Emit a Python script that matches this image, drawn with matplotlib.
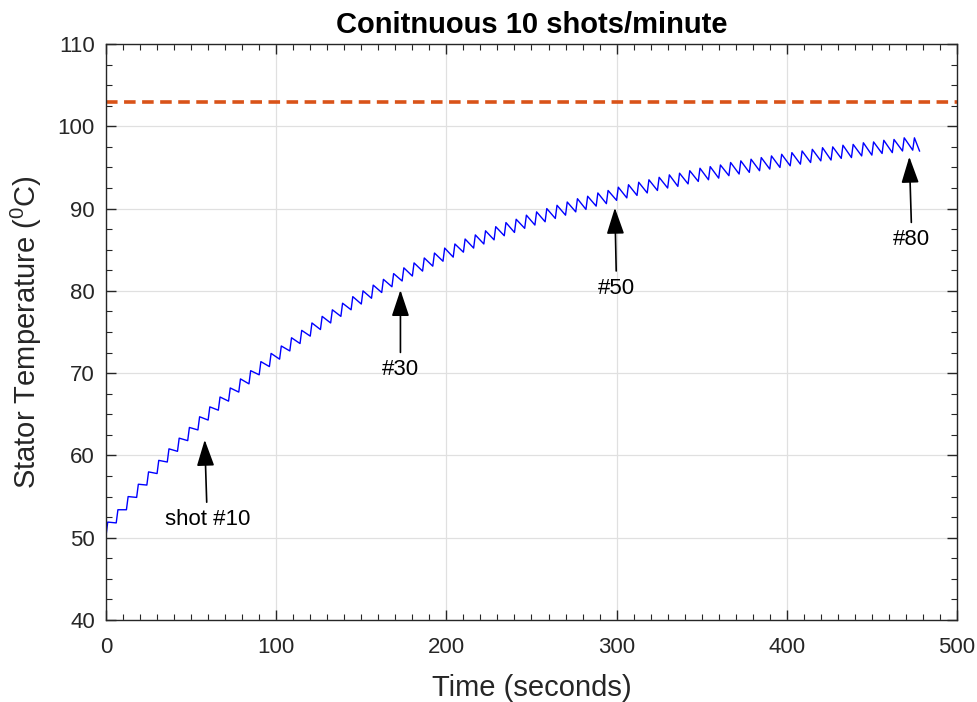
"""Stator temperature under continuous firing, 10 shots/minute."""
import matplotlib.pyplot as plt
from matplotlib.ticker import MultipleLocator

# one shot every 6 s (10 shots/minute), 80 shots
SHOT_PERIOD = 6.0
RISE_TIME = 1.0

# temperature just before each shot (deg C)
trough_temp = [
    50.2, 51.8, 53.4, 54.9, 56.4, 57.8, 59.2, 60.5, 61.8, 63.1,
    64.3, 65.5, 66.6, 67.7, 68.7, 69.8, 70.8, 71.7, 72.7, 73.6,
    74.5, 75.3, 76.1, 76.9, 77.7, 78.4, 79.1, 79.8, 80.5, 81.2,
    81.8, 82.4, 83.0, 83.6, 84.1, 84.7, 85.2, 85.7, 86.2, 86.7,
    87.1, 87.6, 88.0, 88.4, 88.8, 89.2, 89.6, 89.9, 90.3, 90.6,
    91.0, 91.3, 91.6, 91.9, 92.2, 92.5, 92.7, 93.0, 93.3, 93.5,
    93.7, 94.0, 94.2, 94.4, 94.6, 94.8, 95.0, 95.2, 95.4, 95.6,
    95.8, 95.9, 96.1, 96.2, 96.4, 96.5, 96.7, 96.8, 97.0, 97.1,
]
# temperature at the end of each shot's heating
peak_temp = [
    51.9, 53.4, 55.0, 56.5, 58.0, 59.4, 60.8, 62.1, 63.4, 64.7,
    65.9, 67.1, 68.2, 69.3, 70.3, 71.4, 72.4, 73.3, 74.3, 75.2,
    76.1, 76.9, 77.7, 78.5, 79.3, 80.0, 80.7, 81.4, 82.1, 82.8,
    83.4, 84.0, 84.6, 85.2, 85.7, 86.3, 86.8, 87.3, 87.8, 88.3,
    88.7, 89.2, 89.6, 90.0, 90.4, 90.8, 91.2, 91.5, 91.9, 92.2,
    92.6, 92.9, 93.2, 93.5, 93.8, 94.1, 94.3, 94.6, 94.9, 95.1,
    95.3, 95.6, 95.8, 96.0, 96.2, 96.4, 96.6, 96.8, 97.0, 97.2,
    97.4, 97.5, 97.7, 97.8, 98.0, 98.1, 98.3, 98.4, 98.6, 98.6,
]
end_time, end_temp = 478.0, 97.0

limit_temp = 103.0

# (label, arrow tip, text position)
callouts = [
    ("shot #10", (58, 61.9), (59.5, 52.2)),
    ("#30", (173, 80.1), (173, 70.4)),
    ("#50", (299, 90.1), (300, 80.3)),
    ("#80", (472, 96.3), (473.5, 86.2)),
]

plt.rcParams["font.family"] = ["Liberation Sans", "DejaVu Sans"]
TXT = "#262626"

t, temp = [], []
for k, (lo, hi) in enumerate(zip(trough_temp, peak_temp)):
    t += [k * SHOT_PERIOD, k * SHOT_PERIOD + RISE_TIME]
    temp += [lo, hi]
t.append(end_time)
temp.append(end_temp)

fig = plt.figure(figsize=(9.77, 7.02), dpi=100)
ax = fig.add_axes([0.1085, 0.1168, 0.871, 0.8205])

ax.axhline(limit_temp, color="#D95319", lw=2.6, ls=(0, (3.2, 1.8)))
ax.plot(t, temp, color="#0000FF", lw=1.0)

for label, tip, pos in callouts:
    ax.annotate(label, xy=tip, xytext=pos, ha="center", va="center",
                fontsize=16, color="k",
                arrowprops=dict(arrowstyle="-|>,head_length=0.9,head_width=0.3",
                                color="k", lw=1.2, shrinkA=3, shrinkB=0,
                                mutation_scale=18))

ax.set_xlim(0, 500)
ax.set_ylim(40, 110)
ax.xaxis.set_major_locator(MultipleLocator(100))
ax.xaxis.set_minor_locator(MultipleLocator(10))
ax.yaxis.set_major_locator(MultipleLocator(10))
ax.yaxis.set_minor_locator(MultipleLocator(2.5))
ax.tick_params(which="both", direction="in", top=True, right=True,
               color=TXT, labelcolor=TXT, labelsize=16)
ax.tick_params(axis="x", pad=12)
ax.tick_params(axis="y", pad=8)
ax.tick_params(which="major", length=7, width=1.0)
ax.tick_params(which="minor", length=4, width=0.8)
for s in ax.spines.values():
    s.set_color(TXT)
    s.set_linewidth(1.0)
ax.grid(True, which="major", color="#e0e0e0", lw=0.9)
ax.set_axisbelow(True)

ax.set_xlabel("Time (seconds)", fontsize=21, color=TXT, labelpad=12)
ax.set_ylabel(r"Stator Temperature ($\mathregular{^0}$C)", fontsize=21,
              color=TXT, labelpad=10)
ax.set_title("Conitnuous 10 shots/minute", fontsize=21, fontweight="bold",
             color="k", pad=8)

fig.savefig("out.png", dpi=100)
